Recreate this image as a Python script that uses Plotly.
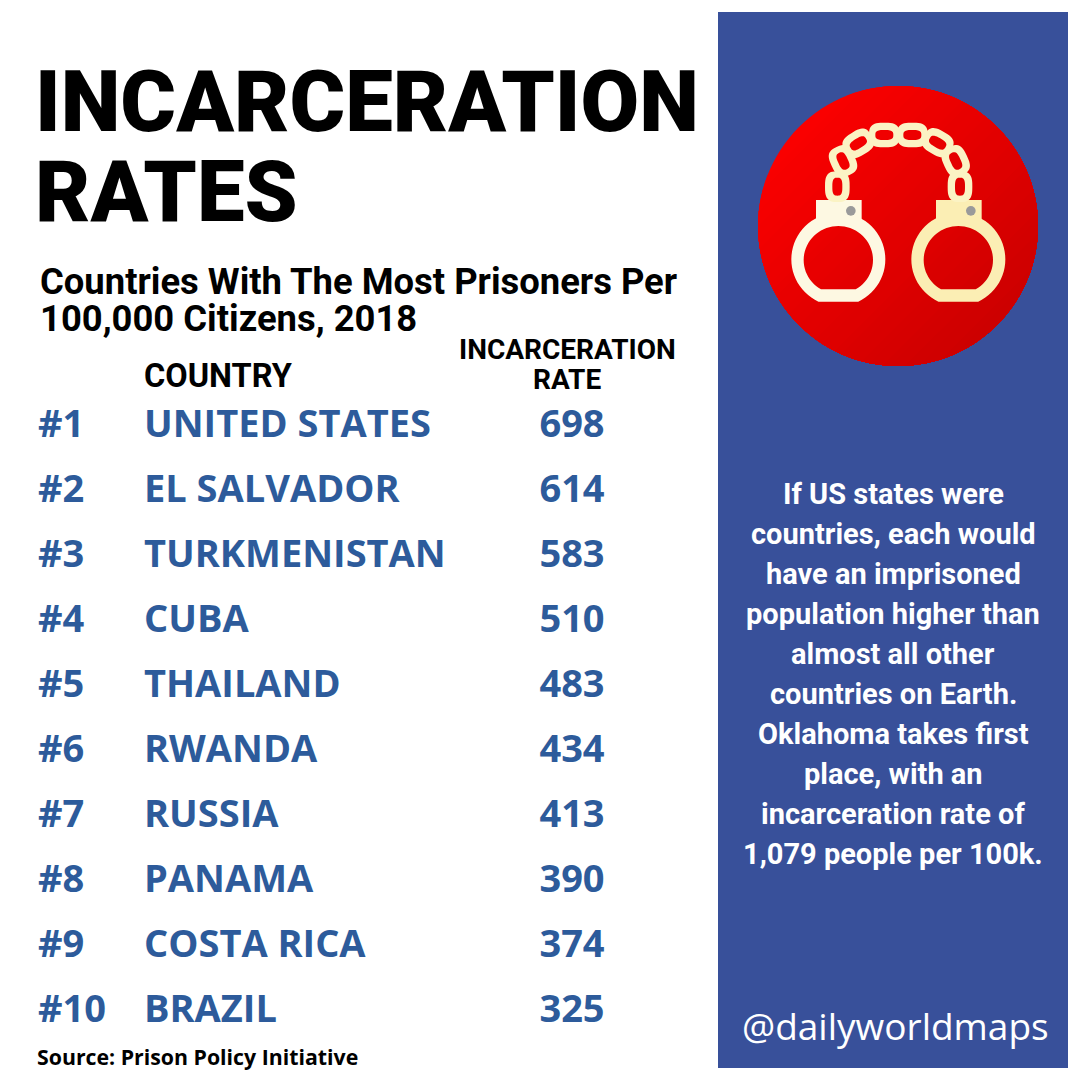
import math
import plotly.graph_objects as go

RANKS = [1, 2, 3, 4, 5, 6, 7, 8, 9, 10]
RANK_LABELS = ["#1", "#2", "#3", "#4", "#5", "#6", "#7", "#8", "#9", "#10"]
COUNTRIES = ["UNITED STATES", "EL SALVADOR", "TURKMENISTAN", "CUBA", "THAILAND",
             "RWANDA", "RUSSIA", "PANAMA", "COSTA RICA", "BRAZIL"]
RATES = [698, 614, 583, 510, 483, 434, 413, 390, 374, 325]

OFF = 8          # the page body's own margin
PAGE = 1079
W = H = PAGE - OFF
BLUE_TXT = "#2d5b9b"
PANEL = "#38509a"
CREAM = "#fbf3c4"

def px(x): return (x - OFF) / W
def py(y): return 1 - (y - OFF) / H
def zx(v): return 750 + v / 3
def zy(v): return 80 + v / 3

def poly(points):
    return "M" + " L".join(f"{px(x):.5f},{py(y):.5f}" for x, y in points) + " Z"

def ellipse(cx, cy, a, b, deg=0, n=36, power=2.0):
    t = math.radians(deg)
    out = []
    for i in range(n):
        u = 2 * math.pi * i / n
        cu, su = math.cos(u), math.sin(u)
        ex = a * math.copysign(abs(cu) ** (2 / power), cu)
        ey = b * math.copysign(abs(su) ** (2 / power), su)
        out.append((cx + ex * math.cos(t) - ey * math.sin(t), cy + ex * math.sin(t) + ey * math.cos(t)))
    return out

def shape_path(d, color):
    return dict(type="path", xref="paper", yref="paper", path=d, fillcolor=color,
                line=dict(width=0), layer="below")

shapes = [
    dict(type="rect", xref="paper", yref="paper", x0=px(718), x1=px(1068), y0=py(12), y1=py(1068),
         fillcolor=PANEL, line=dict(width=0), layer="below"),
]

# red disc with a diagonal gradient, painted as overlapping segments
CX, CY, R = 898, 226, 140
disc = ellipse(CX, CY, R, R, n=120)
STEPS = 30
for s in range(STEPS):
    f = s / (STEPS - 1)
    t = -R + 2 * R * s / STEPS
    seg = [(x, y) for x, y in disc if ((x - CX) + (y - CY)) / math.sqrt(2) >= t - 0.01]
    col = f"rgb({int(250 - 45 * f)},0,0)"
    if len(seg) > 2:
        shapes.append(shape_path(poly(seg), col))

# handcuffs (two cuffs drawn from one outline)
for dx, col in ((0, "#fdf8e2"), (360, "#fbeeb4")):
    cx = zx(265 + dx)
    outer = [(x, min(y, zy(665))) for x, y in ellipse(cx, zy(538), 141 / 3, 140 / 3, n=72)]
    inner = [(x, min(y, zy(628))) for x, y in ellipse(cx, zy(540), 104 / 3, 102 / 3, n=72)]
    shapes.append(shape_path(poly(outer) + " " + poly(inner), col))
    plate = [(zx(198 + dx), zy(360)), (zx(335 + dx), zy(360)), (zx(335 + dx), zy(425)), (zx(198 + dx), zy(425))]
    shapes.append(shape_path(poly(plate), col))
    shapes.append(dict(type="circle", xref="paper", yref="paper",
                       x0=px(zx(288 + dx)), x1=px(zx(317 + dx)), y0=py(zy(378)), y1=py(zy(407)),
                       fillcolor="#9a9a9a", line=dict(width=0), layer="below"))

# chain links
links = [(262, 320, 90), (279, 243, 65), (325, 190, 148), (403, 165, 0),
         (487, 165, 0), (563, 188, 30), (617, 243, 65), (630, 320, 90)]
for lx, ly, deg in links:
    d = (poly(ellipse(zx(lx), zy(ly), 46 / 3, 37 / 3, deg, n=48, power=3)) + " "
         + poly(ellipse(zx(lx), zy(ly), 27 / 3, 15 / 3, deg, n=48, power=3)))
    shapes.append(shape_path(d, CREAM))

SANS = "Open Sans"
HEAD = "Roboto"

def note(x, y, text, size, color="#000000", anchor="left", font=HEAD, weight=700):
    return dict(xref="paper", yref="paper", x=px(x), y=py(y), text=text, showarrow=False,
                xanchor=anchor, yanchor="middle", align="center" if anchor == "center" else anchor,
                font=dict(family=font, size=size, color=color, weight=weight), borderpad=0, borderwidth=0)

annotations = [
    note(35, 102, "INCARCERATION", 85, weight=900),
    note(35, 192, "RATES", 85, weight=900),
    note(40, 281, "Countries With The Most Prisoners Per", 36.4),
    note(40, 318, "100,000 Citizens, 2018", 36.4),
    note(144, 376, "COUNTRY", 32.5),
    note(567, 349, "INCARCERATION", 28, anchor="center"),
    note(567, 379, "RATE", 28, anchor="center"),
    note(37, 1056, "Source: Prison Policy Initiative", 21.3, font=SANS),
    note(1049, 1025, "@dailyworldmaps", 37, color="#ffffff", anchor="right", font=SANS, weight=500),
]
panel_lines = ["If US states were", "countries, each would", "have an imprisoned",
               "population higher than", "almost all other", "countries on Earth.",
               "Oklahoma takes first", "place, with an", "incarceration rate of",
               "1,079 people per 100k."]
for i, line in enumerate(panel_lines):
    annotations.append(note(893, 494 + i * 40, line, 29, color="#ffffff", anchor="center"))

row_font = dict(family=SANS, size=38, color=BLUE_TXT, weight=700)
fig = go.Figure()
fig.add_trace(go.Scatter(x=[38] * 10, y=RANKS, text=RANK_LABELS, mode="text", textposition="middle right",
                         textfont=row_font, hoverinfo="skip"))
fig.add_trace(go.Scatter(x=[144] * 10, y=RANKS, text=COUNTRIES, mode="text", textposition="middle right",
                         textfont=row_font, hoverinfo="skip"))
fig.add_trace(go.Scatter(x=[572] * 10, y=RANKS, text=[str(v) for v in RATES], mode="text", textposition="middle center",
                         textfont=row_font, hoverinfo="skip"))

ROW0, STEP = 427, 65
fig.update_layout(
    width=W, height=H, margin=dict(l=0, r=0, t=0, b=0), paper_bgcolor="#ffffff", plot_bgcolor="#ffffff",
    showlegend=False, shapes=shapes, annotations=annotations,
    xaxis=dict(range=[OFF, PAGE], visible=False, fixedrange=True),
    yaxis=dict(range=[1 + (PAGE - ROW0) / STEP, 1 + (OFF - ROW0) / STEP], visible=False, fixedrange=True),
)
fig.write_html("out.html", config=dict(displayModeBar=False))
